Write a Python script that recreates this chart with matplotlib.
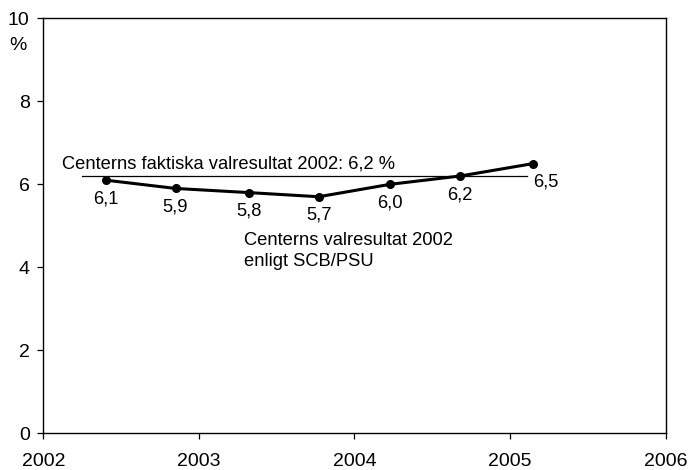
import matplotlib
matplotlib.use("Agg")
import matplotlib.pyplot as plt

plt.rcParams['font.family'] = ['Liberation Sans', 'DejaVu Sans']

# Data
dates = [2002.40, 2002.85, 2003.32, 2003.77, 2004.23, 2004.68, 2005.15]
values = [6.1, 5.9, 5.8, 5.7, 6.0, 6.2, 6.5]
value_labels = ["6,1", "5,9", "5,8", "5,7", "6,0", "6,2", "6,5"]
actual_result = 6.2
actual_span = [2002.25, 2005.11]
x_ticks = [2002, 2003, 2004, 2005, 2006]
y_ticks = [0, 2, 4, 6, 8, 10]

FS = 13.2
TFS = 14

fig = plt.figure(figsize=(6.89, 4.70), dpi=100)
ax = fig.add_axes([0.0628, 0.0781, 0.9034, 0.883])

ax.plot(actual_span, [actual_result, actual_result], color='black', lw=0.9)
ax.plot(dates, values, color='black', lw=2.2, marker='o', markersize=5.5)

for i, (x, y, lab) in enumerate(zip(dates, values, value_labels)):
    dx = 9 if i == len(dates) - 1 else 0
    ax.annotate(lab, (x, y), xytext=(dx, -13.5), textcoords='offset points',
                ha='center', va='center', fontsize=FS)

ax.text(2002.12, 6.50, "Centerns faktiska valresultat 2002: 6,2 %",
        fontsize=FS, ha='left', va='center')
ax.text(2003.29, 4.40, "Centerns valresultat 2002\nenligt SCB/PSU",
        fontsize=FS, ha='left', va='center', linespacing=1.3)

ax.set_xlim(2002, 2006)
ax.set_ylim(0, 10)
ax.set_xticks(x_ticks)
ax.set_yticks(y_ticks)
ax.set_xticklabels([str(t) for t in x_ticks])
ax.tick_params(axis='both', direction='out', length=4.3, width=0.9, labelsize=TFS)
ax.tick_params(axis='x', pad=10)
ax.tick_params(axis='y', pad=5.5)
for s in ax.spines.values():
    s.set_linewidth(1.0)

fig.text(9.5 / 689, 1 - 45.5 / 470, "%", fontsize=TFS, ha='left', va='center')

fig.savefig("out.png", dpi=100)
